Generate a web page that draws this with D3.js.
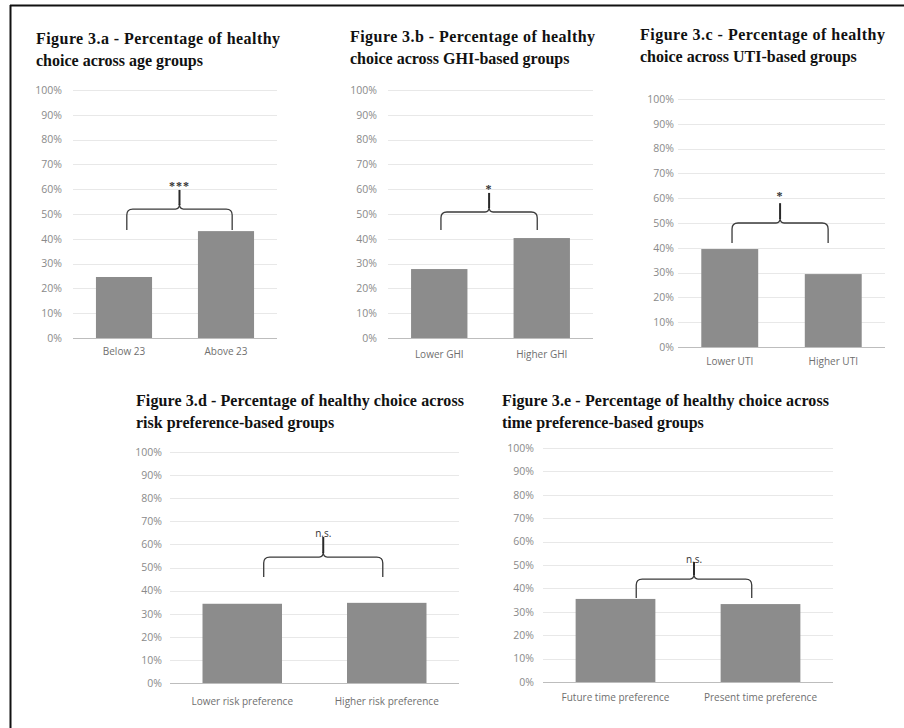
<!DOCTYPE html>
<html>
<head>
<meta charset="utf-8">
<script src="https://cdn.jsdelivr.net/npm/d3@7"></script>
<style>
  body { margin: 0; background: #fff; }
  svg { display: block; }
</style>
</head>
<body>
<div id="chart"></div>
<script>
// data
var titlesLine1 = [
    "Figure 3.a - Percentage of healthy",
    "Figure 3.b - Percentage of healthy",
    "Figure 3.c - Percentage of healthy",
    "Figure 3.d - Percentage of healthy choice across",
    "Figure 3.e - Percentage of healthy choice across"
];
var titlesLine2 = [
    "choice across age groups",
    "choice across GHI-based groups",
    "choice across UTI-based groups",
    "risk preference-based groups",
    "time preference-based groups"
];
var categories = [
    ["Below 23", "Above 23"],
    ["Lower GHI", "Higher GHI"],
    ["Lower UTI", "Higher UTI"],
    ["Lower risk preference", "Higher risk preference"],
    ["Future time preference", "Present time preference"]
];
var values = [
    [24.6, 43.1],
    [27.8, 40.3],
    [39.5, 29.4],
    [34.3, 34.7],
    [35.5, 33.3]
];
var sigLabels = ["***", "*", "*", "n.s.", "n.s."];
var yTicks = [0, 10, 20, 30, 40, 50, 60, 70, 80, 90, 100];

// layout of each panel (pixels), brace placement (value units / band fraction)
var layout = [
    {x0: 73,  x1: 277, y0: 90,  y1: 338, tx: 36,  ty: 44,  tw: 244, lp: 11, cp: 10,
     legs: [0.55, 0.61], brace: [43.5, 52, 59.7, 63.2]},
    {x0: 388, x1: 593, y0: 90,  y1: 338, tx: 350, ty: 42,  tw: 245, lp: 11, cp: 13,
     legs: [0.53, 0.42], brace: [43.5, 50.8, 58.5, 62]},
    {x0: 678, x1: 885, y0: 99,  y1: 347, tx: 640, ty: 40,  tw: 245, lp: 4,  cp: 11,
     legs: [0.54, 0.41], brace: [41.9, 50, 58, 62.8]},
    {x0: 170, x1: 459, y0: 452, y1: 683, tx: 136, ty: 406, tw: 328, lp: 8,  cp: 15,
     legs: [0.77, 0.45], brace: [45.9, 54.5, 63.2, 64.6]},
    {x0: 543, x1: 833, y0: 448, y1: 682, tx: 502, ty: 406, tw: 327, lp: 9,  cp: 12,
     legs: [0.76, 0.39], brace: [35.9, 44, 51.3, 52.3]}
];

var width = 904, height = 728;

var svg = d3.select("#chart").append("svg")
    .attr("width", width)
    .attr("height", height);

// frame
svg.append("line")
    .attr("x1", 10).attr("x2", width).attr("y1", 5.5).attr("y2", 5.5)
    .attr("stroke", "#111").attr("stroke-width", 2);
svg.append("line")
    .attr("x1", 10.5).attr("x2", 10.5).attr("y1", 5).attr("y2", height)
    .attr("stroke", "#111").attr("stroke-width", 2);

layout.forEach(function(L, i) {
    var g = svg.append("g");

    var x = d3.scaleBand()
        .domain(categories[i])
        .range([L.x0, L.x1])
        .paddingInner(0.45)
        .paddingOuter(0.225);

    var y = d3.scaleLinear()
        .domain([0, 100])
        .range([L.y1, L.y0]);

    // title
    g.append("text")
        .attr("x", L.tx).attr("y", L.ty)
        .attr("textLength", L.tw)
        .attr("lengthAdjust", "spacing")
        .attr("font-family", "'Liberation Serif', 'Times New Roman', serif")
        .attr("font-weight", "bold")
        .attr("font-size", 16)
        .attr("fill", "#111")
        .text(titlesLine1[i]);
    g.append("text")
        .attr("x", L.tx).attr("y", L.ty + 22)
        .attr("font-family", "'Liberation Serif', 'Times New Roman', serif")
        .attr("font-weight", "bold")
        .attr("font-size", 16)
        .attr("fill", "#111")
        .text(titlesLine2[i]);

    // gridlines
    g.append("g")
        .selectAll("line")
        .data(yTicks.slice(1))
        .enter().append("line")
        .attr("x1", L.x0).attr("x2", L.x1)
        .attr("y1", function(d) { return Math.round(y(d)) + 0.5; })
        .attr("y2", function(d) { return Math.round(y(d)) + 0.5; })
        .attr("stroke", "#e8e8e8");

    // y axis labels
    var yAxis = g.append("g")
        .attr("transform", "translate(" + L.x0 + ",0)")
        .call(d3.axisLeft(y)
            .tickValues(yTicks)
            .tickSize(0)
            .tickPadding(L.lp)
            .tickFormat(function(d) { return d + "%"; }));
    yAxis.select(".domain").remove();
    yAxis.selectAll("text")
        .attr("font-family", "'Open Sans', sans-serif")
        .attr("font-size", 10.5)
        .attr("fill", "#8a8a8a");

    // bars
    g.append("g")
        .selectAll("rect")
        .data(values[i])
        .enter().append("rect")
        .attr("x", function(d, j) { return x(categories[i][j]); })
        .attr("y", function(d) { return y(d); })
        .attr("width", x.bandwidth())
        .attr("height", function(d) { return y(0) - y(d); })
        .attr("fill", "#8c8c8c");

    // x axis
    var xAxis = g.append("g")
        .attr("transform", "translate(0," + L.y1 + ")")
        .call(d3.axisBottom(x).tickSize(0).tickPadding(L.cp));
    xAxis.select(".domain")
        .attr("stroke", "#bdbdbd")
        .attr("d", "M" + L.x0 + ",0.5H" + L.x1);
    xAxis.selectAll("text")
        .attr("font-family", "'Open Sans', sans-serif")
        .attr("font-size", 10)
        .attr("fill", "#6f6f6f");

    // significance brace
    var xl = x(categories[i][0]) + x.bandwidth() * L.legs[0];
    var xr = x(categories[i][1]) + x.bandwidth() * L.legs[1];
    var xc = (xl + xr) / 2;
    var yb = y(L.brace[0]), yh = y(L.brace[1]), ys = y(L.brace[2]);
    var r = 6;
    var path = d3.path();
    path.moveTo(xl, yb);
    path.lineTo(xl, yh + r);
    path.quadraticCurveTo(xl, yh, xl + r, yh);
    path.lineTo(xc - 4, yh);
    path.quadraticCurveTo(xc, yh, xc, yh - 5);
    path.quadraticCurveTo(xc, yh, xc + 4, yh);
    path.lineTo(xr - r, yh);
    path.quadraticCurveTo(xr, yh, xr, yh + r);
    path.lineTo(xr, yb);
    g.append("path")
        .attr("d", path.toString())
        .attr("fill", "none")
        .attr("stroke", "#3a3a3a")
        .attr("stroke-width", 1.3);
    g.append("line")
        .attr("x1", xc).attr("x2", xc)
        .attr("y1", yh - 4).attr("y2", ys)
        .attr("stroke", "#2a2a2a")
        .attr("stroke-width", 2);

    var isStar = sigLabels[i].indexOf("*") === 0;
    g.append("text")
        .attr("x", xc)
        .attr("y", y(L.brace[3]))
        .attr("dy", isStar ? "0.75em" : "0.35em")
        .attr("text-anchor", "middle")
        .attr("font-family", isStar ? "'Liberation Serif', serif" : "'Open Sans', sans-serif")
        .attr("font-size", isStar ? 12 : 10)
        .attr("font-weight", isStar ? "bold" : "normal")
        .attr("fill", "#333")
        .attr("letter-spacing", isStar ? 1 : 0)
        .text(sigLabels[i]);
});
</script>
</body>
</html>
